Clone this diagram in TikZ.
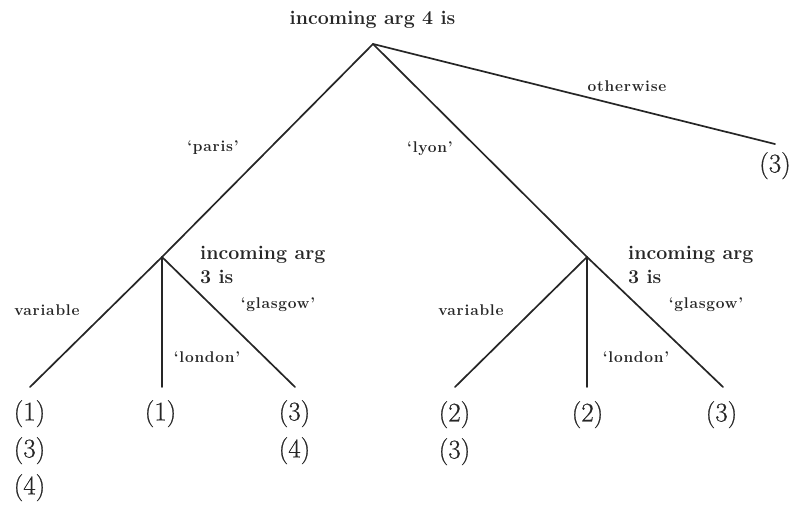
\documentclass[tikz,border=0pt]{standalone}
\usepackage{fontspec}
\setmainfont{Latin Modern Roman}
% slightly heavier roman for the outcome numbers, tracked bold for branch labels
\newfontfamily\leaffont[FakeBold=0.6]{Latin Modern Roman}
\newfontfamily\lblfont[LetterSpace=5]{Latin Modern Roman}
\begin{document}
\begin{tikzpicture}[x=1pt,y=-1pt,
  branch/.style={line width=1.7pt,draw=black!85,line cap=round},
  heading/.style={inner sep=0pt,text=black!85,font=\fontsize{19.6}{24}\selectfont\bfseries,align=left},
  edgelbl/.style={inner sep=0pt,text=black!85,font=\lblfont\fontsize{15.5}{18}\selectfont\bfseries},
  leaf/.style={inner sep=0pt,anchor=north,text=black!85,font=\leaffont\fontsize{27}{37}\selectfont,align=center}]
\useasboundingbox (0,0) rectangle (792,504);

% decision points and branch ends
\coordinate (root) at (373,44);
\coordinate (pa) at (162,257);
\coordinate (ly) at (587,257);
\coordinate (ow) at (775,144);
\coordinate (pv) at (30,387);
\coordinate (pl) at (162,387);
\coordinate (pg) at (295,387);
\coordinate (lv) at (455,387);
\coordinate (ll) at (587,387);
\coordinate (lg) at (723,387);

% tests
\node[heading,anchor=base] (t4) at (372.5,24) {incoming arg 4 is};
\node[heading,anchor=north west] (t3a) at (200,245.5) {incoming arg\\3 is};
\node[heading,anchor=north west] (t3b) at (628,245.5) {incoming arg\\3 is};

% branches
\draw[branch] (root) -- (pa);
\draw[branch] (root) -- (ly);
\draw[branch] (root) -- (ow);
\draw[branch] (pa) -- (pv);
\draw[branch] (pa) -- (pl);
\draw[branch] (pa) -- (pg);
\draw[branch] (ly) -- (lv);
\draw[branch] (ly) -- (ll);
\draw[branch] (ly) -- (lg);

% branch labels
\node[edgelbl] (e1) at (213,148) {‘paris’};
\node[edgelbl] (e2) at (430,149) {‘lyon’};
\node[edgelbl] (e3) at (627,86) {otherwise};
\node[edgelbl] (e4) at (47,310) {variable};
\node[edgelbl] (e5) at (207,357) {‘london’};
\node[edgelbl] (e6) at (278,305) {‘glasgow’};
\node[edgelbl] (e7) at (471,310) {variable};
\node[edgelbl] (e8) at (636,357) {‘london’};
\node[edgelbl] (e9) at (706,305) {‘glasgow’};

% outcomes
\node[leaf] (r0) at (775,152) {(3)};
\node[leaf] (r1) at (29.5,400) {(1)\\(3)\\(4)};
\node[leaf] (r2) at (160.5,400) {(1)};
\node[leaf] (r3) at (294.5,400) {(3)\\(4)};
\node[leaf] (r4) at (454.5,401) {(2)\\(3)};
\node[leaf] (r5) at (587.5,401) {(2)};
\node[leaf] (r6) at (721.5,401) {(3)};
\end{tikzpicture}
\end{document}
